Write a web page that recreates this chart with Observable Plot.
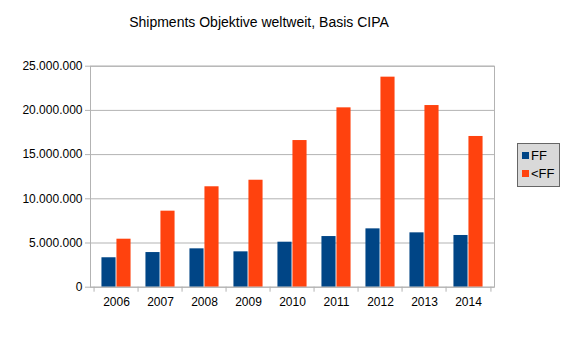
<!DOCTYPE html>
<html><head><meta charset="utf-8">
<script src="https://cdn.jsdelivr.net/npm/d3@7"></script>
<script src="https://cdn.jsdelivr.net/npm/@observablehq/plot@0.6"></script>
<style>
body{margin:0;background:#fff;font-family:"Liberation Sans",Arial,sans-serif;}
#wrap{position:relative;width:566px;height:337px;overflow:hidden;}
#title{position:absolute;left:0;top:14px;width:518px;text-align:center;font-size:14px;color:#000;}
#chart{position:absolute;left:0;top:50px;}
#legend{position:absolute;left:517px;top:143px;width:41px;height:42px;background:#d9d9d9;border:1px solid #666;font-size:13px;}
.li{position:absolute;left:4px;display:flex;align-items:center;}
.sw{width:7px;height:7px;margin-right:2px;}
</style></head><body>
<div id="wrap">
<div id="title">Shipments Objektive weltweit, Basis CIPA</div>
<div id="chart"></div>
<div id="legend"></div>
</div>
<script>
const years = ["2006","2007","2008","2009","2010","2011","2012","2013","2014"];
const seriesNames = ["FF","<FF"];
const ffValues = [3330000,3920000,4340000,4000000,5090000,5730000,6600000,6150000,5850000];
const ltffValues = [5430000,8600000,11360000,12100000,16590000,20290000,23760000,20550000,17050000];
const yTicks = [0,5000000,10000000,15000000,20000000,25000000];
const colors = ["#004586","#ff420e"];

const ff = years.map((y,i)=>({year:y, value:ffValues[i]}));
const lt = years.map((y,i)=>({year:y, value:ltffValues[i]}));
const de = d3.formatLocale({decimal:",",thousands:".",grouping:[3],currency:["","€"]});
const fmt = de.format(",d");

const W = 566, H = 287, mL = 90, mR = 72;
const step = (W - mL - mR) / years.length;
const grey = "#b3b3b3";

const chart = Plot.plot({
  width: W, height: H,
  marginLeft: mL, marginRight: mR, marginTop: 15.7, marginBottom: 50.3,
  style: {fontFamily: "'Liberation Sans', Arial, sans-serif", fontSize: "12px", color: "#000", background: "#fff"},
  x: {domain: years, padding: 0, label: null},
  y: {domain: [0, 25000000], label: null},
  marks: [
    Plot.gridY(yTicks, {stroke: grey, strokeOpacity: 1}),
    Plot.barY(ff, {x: "year", y: "value", fill: colors[0], insetLeft: step/2 - 15, insetRight: step/2}),
    Plot.barY(lt, {x: "year", y: "value", fill: colors[1], insetLeft: step/2, insetRight: step/2 - 15}),
    Plot.frame({stroke: grey}),
    Plot.axisY({ticks: yTicks, tickSize: 5, tickPadding: 3, tickFormat: fmt, stroke: grey, fill: "#000", label: null}),
    Plot.axisX({tickSize: 5, fill: "none", stroke: grey, dx: -step/2, label: null}),
    Plot.axisX({ticks: [years[years.length-1]], tickSize: 5, fill: "none", stroke: grey, dx: step/2, label: null}),
    Plot.axisX({tickSize: 0, tickPadding: 10, fill: "#000", label: null})
  ]
});
document.getElementById("chart").appendChild(chart);

const leg = document.getElementById("legend");
seriesNames.forEach((n,i)=>{
  const d = document.createElement("div");
  d.className = "li";
  d.style.top = (i===0 ? 4 : 22) + "px";
  d.innerHTML = `<span class="sw" style="background:${colors[i]}"></span><span></span>`;
  d.lastChild.textContent = n;
  leg.appendChild(d);
});
</script>
</body></html>
